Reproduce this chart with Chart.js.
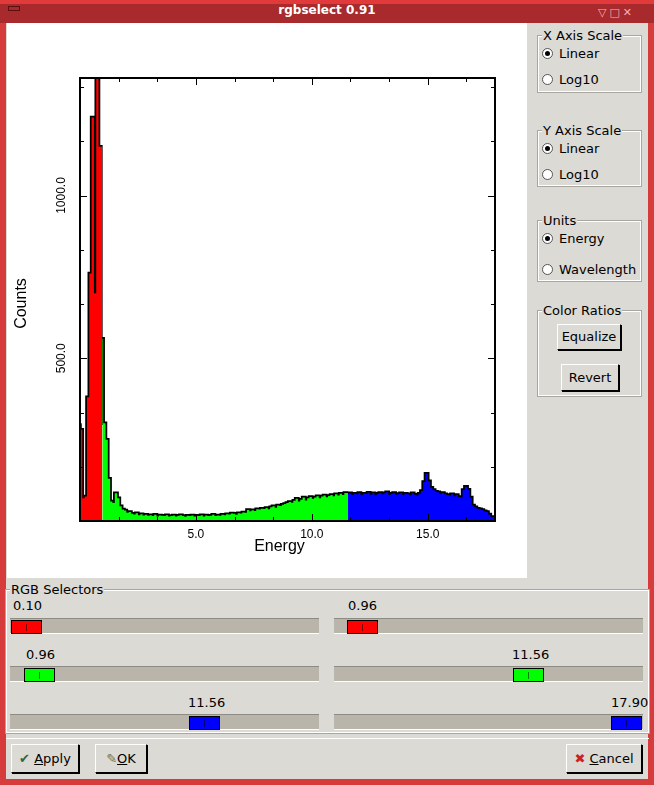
<!DOCTYPE html>
<html><head><meta charset="utf-8">
<script src="https://cdn.jsdelivr.net/npm/chart.js@4"></script>
<style>
body{margin:0;width:654px;height:785px;background:#dcdad5;font-family:"DejaVu Sans",sans-serif;font-size:13px;color:#000;position:relative;overflow:hidden}
.a{position:absolute;box-sizing:border-box}
.grp{border:1px solid #fff;outline:1px solid #a8a6a0;}
.lbl{position:absolute;background:#dcdad5;padding:0 1px;font-size:13px;line-height:14px}
.rad{position:absolute;font-size:13px;line-height:14px}
.rad i{display:inline-block;width:9px;height:9px;border-radius:50%;border:1px solid #555;background:#fff;margin-right:6px;vertical-align:-1px;position:relative}
.rad i.on::after{content:"";position:absolute;left:2px;top:2px;width:5px;height:5px;border-radius:50%;background:#000}
.btn{position:absolute;box-sizing:border-box;border:1px solid #000;border-top-color:#fff;border-left-color:#fff;box-shadow:1px 1px 0 #000;background:#dcdad5;text-align:center;font-size:13px}
.tr{position:absolute;height:16px;background:#bab5ab;border-top:1px solid #8e8a84;border-bottom:1px solid #fff;box-sizing:border-box}
.th{position:absolute;top:1px;height:14px;border:1px solid #000;box-sizing:border-box}
.th b{position:absolute;left:14px;top:3px;width:1px;height:7px;background:rgba(0,0,0,.5)}
.num{position:absolute;font-size:13px}
</style></head><body>
<div class="a" style="left:0;top:0;width:654px;height:785px;border:6px solid #d63c3c;border-top:none;"></div>
<div class="a" style="left:0;top:0;width:654px;height:23px;background:#a82a2c;border-top:4px solid #e23a3a;"></div>
<div class="a" style="left:0;top:3px;width:654px;text-align:center;color:#fff;font-weight:bold;font-size:12px">rgbselect 0.91</div>
<div class="a" style="left:8px;top:6px;width:12px;height:5px;border:1px solid #5a1010"></div>
<div class="a" style="left:598px;top:6px;width:50px;height:13px;color:#f6b0b0;font-size:11px;letter-spacing:3px">▽□✕</div>
<div class="a" style="left:7px;top:23px;width:520px;height:555px;background:#fff"></div>
<canvas id="c" style="position:absolute;left:7px;top:23px" width="520" height="555"></canvas>

<div class="a grp" style="left:538px;top:36px;width:103px;height:56px"></div><div class="lbl" style="left:542px;top:29px">X Axis Scale</div>
<div class="rad" style="left:542px;top:47px"><i class="on"></i>Linear</div><div class="rad" style="left:542px;top:73px"><i></i>Log10</div>
<div class="a grp" style="left:538px;top:131px;width:103px;height:55px"></div><div class="lbl" style="left:542px;top:124px">Y Axis Scale</div>
<div class="rad" style="left:542px;top:142px"><i class="on"></i>Linear</div><div class="rad" style="left:542px;top:168px"><i></i>Log10</div>
<div class="a grp" style="left:538px;top:221px;width:103px;height:60px"></div><div class="lbl" style="left:542px;top:214px">Units</div>
<div class="rad" style="left:542px;top:232px"><i class="on"></i>Energy</div><div class="rad" style="left:542px;top:263px"><i></i>Wavelength</div>
<div class="a grp" style="left:538px;top:311px;width:103px;height:85px"></div><div class="lbl" style="left:542px;top:304px">Color Ratios</div>
<div class="btn" style="left:557px;top:324px;width:64px;height:26px;line-height:24px">Equalize</div>
<div class="btn" style="left:561px;top:364px;width:58px;height:27px;line-height:25px">Revert</div>

<div class="a grp" style="left:6px;top:590px;width:643px;height:143px"></div><div class="lbl" style="left:10px;top:583px">RGB Selectors</div>
<div class="num" style="left:13px;top:598px">0.10</div><div class="num" style="left:348px;top:598px">0.96</div>
<div class="tr" style="left:10px;top:618px;width:309px"><div class="th" style="left:1px;width:31px;background:#f00"><b></b></div></div>
<div class="tr" style="left:334px;top:618px;width:309px"><div class="th" style="left:13px;width:31px;background:#f00"><b></b></div></div>
<div class="num" style="left:26px;top:647px">0.96</div><div class="num" style="left:512px;top:647px">11.56</div>
<div class="tr" style="left:10px;top:666px;width:309px"><div class="th" style="left:14px;width:31px;background:#0f0"><b></b></div></div>
<div class="tr" style="left:334px;top:666px;width:309px"><div class="th" style="left:179px;width:31px;background:#0f0"><b></b></div></div>
<div class="num" style="left:188px;top:695px">11.56</div><div class="num" style="left:611px;top:695px">17.90</div>
<div class="tr" style="left:10px;top:714px;width:309px"><div class="th" style="left:179px;width:31px;background:#00f"><b></b></div></div>
<div class="tr" style="left:334px;top:714px;width:309px"><div class="th" style="left:277px;width:31px;background:#00f"><b></b></div></div>
<div class="a" style="left:6px;top:738px;width:643px;height:1px;background:#a8a6a0;border-bottom:1px solid #fff"></div>
<div class="btn" style="left:11px;top:744px;width:68px;height:29px;line-height:27px"><span style="color:#364">✔</span> <u>A</u>pply</div>
<div class="btn" style="left:95px;top:744px;width:52px;height:29px;line-height:27px"><span style="color:#675">✎</span><u>O</u>K</div>
<div class="btn" style="left:566px;top:744px;width:76px;height:29px;line-height:27px"><span style="color:#c22">✖</span> <u>C</u>ancel</div>

<script>
const energyStep = 0.1;
const counts = [
300,280,70,75,380,760,1240,700,1361,1150,
560,300,250,130,60,55,85,70,45,35,
32,25,28,22,20,24,18,21,17,19,
16,18,15,19,14,17,16,15,18,14,
15,17,14,16,18,15,13,16,15,17,
14,16,15,18,14,17,15,16,19,15,
17,16,19,18,21,20,23,22,19,24,
23,26,25,34,30,33,31,36,35,38,
37,40,36,42,45,41,48,46,50,52,
55,58,56,62,68,60,65,72,63,70,
74,68,72,76,70,75,78,73,77,80,
76,82,78,84,80,86,83,85,80,84,
82,86,80,84,83,87,81,85,79,84,
86,82,85,88,80,84,86,81,83,85,
80,84,82,79,85,81,78,84,92,120,
145,122,102,95,90,88,84,86,82,80,
78,82,76,80,74,72,95,105,96,72,
48,42,38,36,34,30,28,20,12,6];
const redRange = [0.0, 0.96];
const greenRange = [0.96, 11.56];
const blueRange = [11.56, 17.9];
const xTickLabels = [5, 10, 15];
const yTickLabels = [500, 1000];

const pts = counts.map((v,i)=>({x:+(i*energyStep).toFixed(2), y:v}));
pts.push({x:17.9, y:0});
function seg(r){
  const out=[];
  pts.forEach(p=>{ if(p.x>=r[0]-1e-9 && p.x<r[1]) out.push(p); });
  const last = out[out.length-1];
  out.unshift({x:r[0], y:out[0].y});
  out.push({x:r[1], y:last.y});
  return out;
}
const fillDs=(r,c)=>({data:seg(r),stepped:'after',fill:'origin',backgroundColor:c,borderWidth:0,pointRadius:0});
const axesPlugin={id:'ax',afterDraw(ch){
  const g=ch.ctx,a=ch.chartArea,xs=ch.scales.x,ys=ch.scales.y;
  g.save();g.strokeStyle='#000';g.lineWidth=2;g.strokeRect(a.left,a.top,a.right-a.left,a.bottom-a.top);
  g.lineWidth=1;
  for(let v=500/3;v<ys.max;v+=500/3){const y=Math.round(ys.getPixelForValue(v))+.5;const L=Math.abs(v%500)<1||Math.abs(v%500-500)<1?7:4;
    g.beginPath();g.moveTo(a.left,y);g.lineTo(a.left+L,y);g.moveTo(a.right,y);g.lineTo(a.right-L,y);g.stroke();}
  for(let v=5/3;v<xs.max;v+=5/3){const x=Math.round(xs.getPixelForValue(v))+.5;const L=Math.abs(v%5)<.01||Math.abs(v%5-5)<.01?7:4;
    g.beginPath();g.moveTo(x,a.top);g.lineTo(x,a.top+L);g.moveTo(x,a.bottom);g.lineTo(x,a.bottom-L);g.stroke();}
  g.fillStyle='#000';g.font='12px "Liberation Sans"';g.textAlign='center';g.textBaseline='top';
  xTickLabels.forEach(v=>g.fillText(v.toFixed(1),xs.getPixelForValue(v),a.bottom+8));
  yTickLabels.forEach(v=>{g.save();g.translate(a.left-18,ys.getPixelForValue(v));g.rotate(-Math.PI/2);g.textBaseline='middle';g.fillText(v.toFixed(1),0,0);g.restore();});
  g.font='16px "Liberation Sans"';g.fillText('Energy',(a.left+a.right)/2-8,a.bottom+18);
  g.save();g.translate(15,(a.top+a.bottom)/2+4);g.rotate(-Math.PI/2);g.textBaseline='middle';g.fillText('Counts',0,0);g.restore();
  g.restore();}};
new Chart(document.getElementById('c'),{type:'line',
 data:{datasets:[fillDs(redRange,'#ff0000'),fillDs(greenRange,'#00ff00'),fillDs(blueRange,'#0000ff'),
   {data:pts,stepped:'after',fill:false,borderColor:'#000',borderWidth:3.5,pointRadius:0}]},
 options:{responsive:false,animation:false,events:[],
  layout:{padding:{left:73,right:32,top:55,bottom:57}},
  plugins:{legend:{display:false},tooltip:{enabled:false}},
  scales:{x:{type:'linear',min:0,max:17.9,display:false},y:{min:0,max:1361,display:false}}},
 plugins:[axesPlugin]});
</script></body></html>
